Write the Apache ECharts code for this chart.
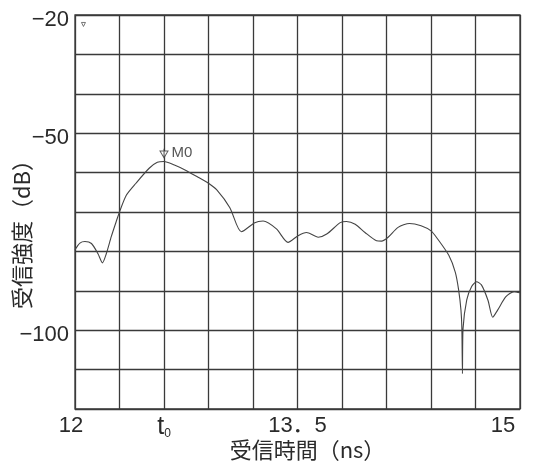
<!DOCTYPE html>
<html>
<head>
<meta charset="utf-8">
<script src="https://cdn.jsdelivr.net/npm/echarts@6/dist/echarts.min.js"></script>
<style>html,body{margin:0;padding:0;background:#fff;}#c{width:534px;height:463px;}</style>
</head>
<body>
<div id="c"></div>
<script>
// Received time (ns)
const times = [12.0, 12.033, 12.067, 12.111, 12.155, 12.185, 12.211, 12.245, 12.278, 12.3, 12.345, 12.411, 12.5, 12.555, 12.6, 12.67, 12.745, 12.83, 12.9, 12.956, 13.044, 13.122, 13.212, 13.268, 13.358, 13.436, 13.504, 13.561, 13.64, 13.697, 13.788, 13.83, 13.889, 13.955, 14.033, 14.067, 14.111, 14.178, 14.255, 14.333, 14.4, 14.444, 14.52, 14.564, 14.586, 14.602, 14.608, 14.612, 14.616, 14.641, 14.674, 14.707, 14.74, 14.784, 14.816, 14.849, 14.905, 14.96, 15.0];
// Received intensity (dB)
const levels = [-79.6, -77.9, -77.5, -78.0, -80.6, -82.9, -80.6, -76.2, -72.4, -70.0, -65.8, -62.7, -58.9, -57.4, -57.2, -58.1, -59.4, -61.2, -62.7, -64.4, -68.9, -75.0, -72.7, -72.3, -74.3, -77.7, -76.0, -75.2, -76.4, -75.6, -72.7, -72.4, -73.1, -75.2, -77.3, -77.4, -76.4, -73.9, -72.9, -73.5, -74.8, -76.8, -81.0, -85.3, -89.7, -94.9, -99.5, -111.0, -99.6, -92.3, -88.9, -87.7, -88.5, -92.4, -96.7, -94.9, -91.5, -90.2, -90.5];
// Markers
const markerM0 = [12.6, -55.1];
const markerTop = [12.057, -22.4];
// Tick labels
const xTickLabels = {120: '{l|12}', 126: '{t|t}{s|0}', 135: '13．5', 150: '{r|15}'};
const yTickLabels = {'-20': '{a|−20}', '-50': '{a|−50}', '-100': '{a|−100}'};
const xName = '受信時間（ns）';
const yName = '受信強度（dB）';

const chart = echarts.init(document.getElementById('c'));
const ink = '#2a2a2a';
const gridLine = {show: true, lineStyle: {color: '#3a3a3a', width: 1.3}};
const fontFam = '"Liberation Sans", Arial, "Noto Sans CJK JP", sans-serif';
const cjk = '"Noto Sans CJK JP", sans-serif';
chart.setOption({
  animation: false,
  backgroundColor: '#fff',
  grid: {left: 75, right: 14, top: 15, bottom: 54, show: true, borderColor: '#3a3a3a', borderWidth: 1.3, containLabel: false, outerBoundsMode: 'none'},
  xAxis: {
    type: 'value', min: 12, max: 15, interval: 0.3,
    axisLine: {show: false}, axisTick: {show: false},
    splitLine: gridLine,
    axisLabel: {
      margin: 6, color: ink, fontSize: 22, fontFamily: fontFam,
      formatter: v => xTickLabels[Math.round(v * 10)] || '',
      rich: {
        l: {fontSize: 22, color: ink, fontFamily: fontFam, padding: [0, 8, 0, 0]},
        r: {fontSize: 22, color: ink, fontFamily: fontFam, padding: [0, 34, 0, 0]},
        t: {fontSize: 25, color: ink, fontFamily: fontFam},
        s: {fontSize: 12, color: ink, verticalAlign: 'bottom', padding: [10, 0, 0, 0], fontFamily: fontFam}
      }
    },
    name: xName, nameLocation: 'middle', nameGap: 30, nameMoveOverlap: false,
    nameTextStyle: {fontSize: 22, color: ink, fontFamily: cjk, padding: [0, 0, 0, 20]}
  },
  yAxis: {
    type: 'value', min: -120, max: -20, interval: 10,
    axisLine: {show: false}, axisTick: {show: false},
    splitLine: gridLine,
    axisLabel: {
      margin: 6, color: ink, fontSize: 22, fontFamily: fontFam,
      formatter: v => yTickLabels[String(Math.round(v))] || '',
      rich: {a: {fontSize: 22, color: ink, fontFamily: fontFam, padding: [9, 0, 0, 0]}}
    },
    name: yName, nameLocation: 'middle', nameGap: 42, nameRotate: 90, nameMoveOverlap: false,
    nameTextStyle: {fontSize: 22, color: ink, fontFamily: cjk, padding: [0, 34, 0, 0]}
  },
  series: [
    {
      type: 'line', data: times.map((t, i) => [t, levels[i]]),
      smooth: 0.25, showSymbol: false,
      lineStyle: {color: '#444', width: 1.1}
    },
    {
      type: 'scatter', data: [markerM0],
      symbol: 'path://M0,0 L10,0 L5,9 Z M5,-3 L5,9', symbolSize: [8, 9],
      itemStyle: {color: '#fff', borderColor: '#333', borderWidth: 1},
      label: {show: true, position: 'right', distance: 3, formatter: 'M0', fontSize: 15, color: ink, fontFamily: fontFam}
    },
    {
      type: 'scatter', data: [markerTop],
      symbol: 'triangle', symbolRotate: 180, symbolSize: 4,
      itemStyle: {color: '#fff', borderColor: '#555', borderWidth: 1}
    }
  ]
});
</script>
</body>
</html>
